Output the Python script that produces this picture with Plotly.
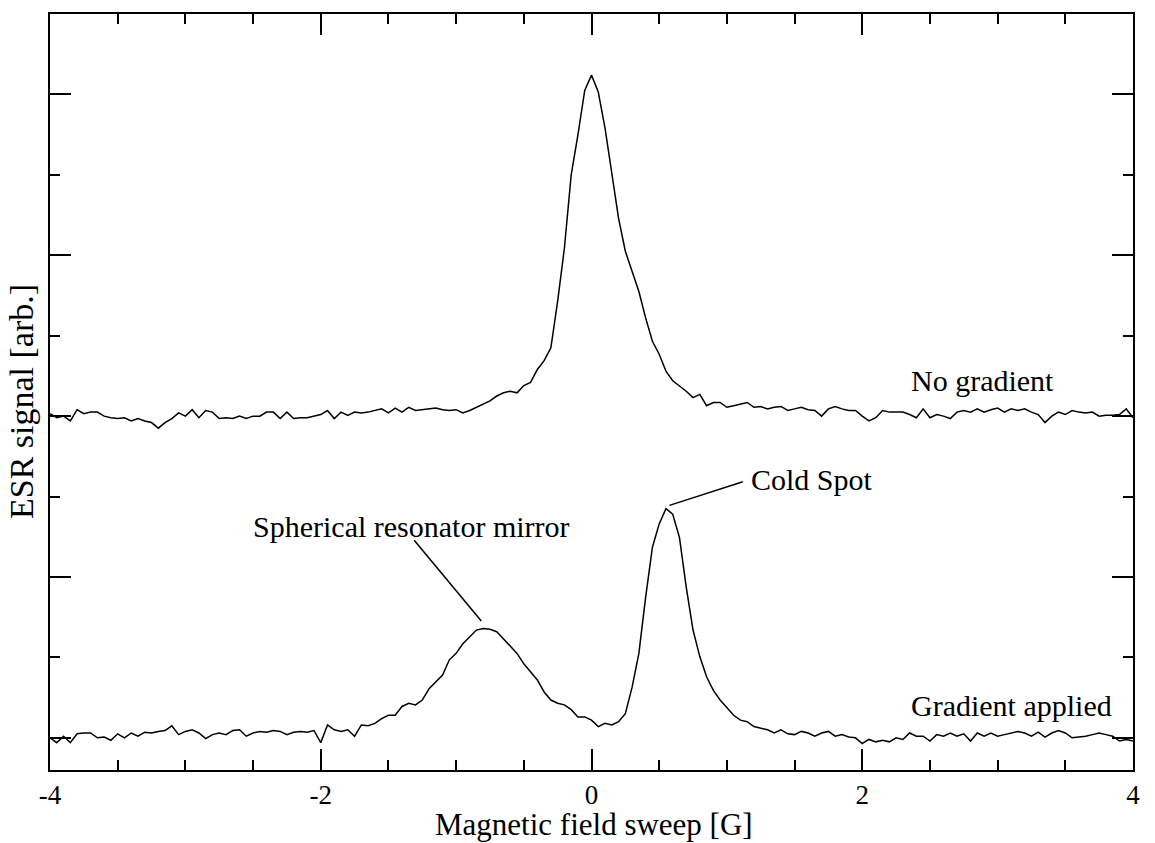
import plotly.graph_objects as go

# Magnetic field sweep [G], sampled every 0.05 G from -4 to 4
field = [round(-4 + 0.05 * i, 2) for i in range(161)]

no_gradient = [
    4.03, 3.98, 4.00, 3.94, 4.08, 4.03, 4.05, 4.05, 4.00, 3.98,
    3.97, 3.98, 3.94, 3.97, 3.94, 3.92, 3.85, 3.92, 3.97, 4.04,
    4.00, 4.08, 3.98, 4.07, 4.05, 3.97, 3.98, 3.97, 4.00, 3.97,
    4.00, 4.00, 4.05, 4.05, 3.97, 4.05, 3.97, 3.98, 3.98, 4.00,
    4.02, 4.07, 3.97, 4.05, 4.01, 4.05, 4.04, 4.05, 4.07, 4.09,
    4.04, 4.10, 4.05, 4.11, 4.07, 4.08, 4.09, 4.10, 4.08, 4.07,
    4.08, 4.04, 4.07, 4.11, 4.15, 4.19, 4.25, 4.29, 4.31, 4.29,
    4.38, 4.42, 4.58, 4.69, 4.85, 5.43, 6.09, 7.00, 7.50, 8.05,
    8.24, 8.03, 7.58, 7.00, 6.46, 6.05, 5.80, 5.55, 5.22, 4.93,
    4.77, 4.56, 4.44, 4.38, 4.31, 4.23, 4.27, 4.13, 4.17, 4.17,
    4.11, 4.13, 4.15, 4.17, 4.11, 4.12, 4.09, 4.11, 4.12, 4.07,
    4.09, 4.11, 4.08, 4.07, 4.00, 4.09, 4.12, 4.09, 4.07, 4.07,
    4.00, 3.94, 3.98, 4.07, 4.05, 4.05, 4.05, 4.02, 3.98, 4.09,
    3.98, 4.02, 4.00, 3.97, 4.05, 4.07, 4.05, 4.09, 4.05, 4.08,
    4.10, 4.05, 4.09, 4.07, 4.09, 4.05, 4.02, 3.92, 4.00, 4.05,
    4.02, 4.07, 4.05, 4.04, 4.05, 4.00, 4.01, 4.01, 4.02, 4.09,
    3.98,
]

gradient_applied = [
    0.00, -0.06, 0.02, -0.06, 0.05, 0.06, 0.06, 0.00, 0.01, -0.03,
    0.05, 0.00, 0.06, 0.02, 0.07, 0.06, 0.08, 0.09, 0.15, 0.04,
    0.08, 0.10, 0.06, -0.01, 0.04, 0.06, 0.04, 0.09, 0.10, 0.02,
    0.06, 0.08, 0.07, 0.09, 0.08, 0.04, 0.07, 0.08, 0.07, 0.09,
    -0.06, 0.16, 0.10, 0.08, 0.10, 0.02, 0.16, 0.15, 0.18, 0.24,
    0.28, 0.28, 0.39, 0.43, 0.41, 0.47, 0.61, 0.70, 0.78, 0.97,
    1.05, 1.17, 1.25, 1.34, 1.36, 1.35, 1.32, 1.23, 1.13, 1.05,
    0.92, 0.82, 0.72, 0.57, 0.47, 0.43, 0.41, 0.35, 0.26, 0.26,
    0.22, 0.14, 0.18, 0.16, 0.20, 0.30, 0.63, 1.05, 1.75, 2.37,
    2.66, 2.85, 2.78, 2.49, 1.87, 1.34, 1.01, 0.76, 0.59, 0.47,
    0.37, 0.28, 0.22, 0.20, 0.14, 0.12, 0.10, 0.06, 0.10, 0.05,
    0.04, 0.08, 0.06, 0.02, 0.06, 0.08, 0.02, 0.04, 0.01, 0.00,
    -0.07, -0.02, -0.05, -0.03, -0.05, 0.00, -0.02, 0.06, 0.02, 0.02,
    -0.04, 0.04, 0.02, 0.06, 0.02, 0.05, -0.04, 0.06, 0.02, 0.06,
    0.02, 0.04, 0.06, 0.08, 0.06, 0.02, 0.07, 0.01, 0.06, 0.09,
    0.06, 0.00, 0.01, 0.02, 0.04, 0.06, 0.04, 0.02, -0.04, -0.02,
    -0.04,
]

x_tick_vals = [-4, -2, 0, 2, 4]
x_tick_text = ["-4", "-2", "0", "2", "4"]

FONT = "Liberation Serif, Times New Roman, serif"

fig = go.Figure()
for ys in (no_gradient, gradient_applied):
    fig.add_trace(go.Scatter(
        x=field, y=ys, mode="lines",
        line=dict(color="black", width=1.5),
        showlegend=False, hoverinfo="skip",
    ))

axis_common = dict(
    showgrid=False, zeroline=False,
    showline=True, linecolor="black", linewidth=2,
    mirror="allticks", ticks="inside", tickcolor="black",
    tickwidth=2, ticklen=21,
)

fig.update_xaxes(
    range=[-4, 4], tickmode="array", tickvals=x_tick_vals, ticktext=x_tick_text,
    tickfont=dict(family=FONT, size=27, color="black"),
    minor=dict(dtick=0.5, tick0=0, ticks="inside", ticklen=10,
               tickwidth=2, tickcolor="black", showgrid=False),
    **axis_common,
)
fig.update_yaxes(
    range=[-0.4, 9.0], tick0=0, dtick=2, showticklabels=False,
    minor=dict(dtick=1, tick0=0, ticks="inside", ticklen=10,
               tickwidth=2, tickcolor="black", showgrid=False),
    **axis_common,
)

ann_font = dict(family=FONT, size=30, color="black")
annotations = [
    dict(text="No gradient", x=2.347, y=4.44, xref="x", yref="y",
         xanchor="left", yanchor="middle", showarrow=False, font=ann_font),
    dict(text="Gradient applied", x=2.347, y=0.40, xref="x", yref="y",
         xanchor="left", yanchor="middle", showarrow=False, font=ann_font),
    dict(text="Cold Spot", x=1.16, y=3.21, xref="x", yref="y",
         xanchor="left", yanchor="middle", showarrow=False, font=ann_font),
    dict(text="Spherical resonator mirror", x=-1.33, y=2.63, xref="x", yref="y",
         xanchor="center", yanchor="middle", showarrow=False, font=ann_font),
    # leader lines
    dict(text="", x=0.576, y=2.89, ax=1.129, ay=3.19, xref="x", yref="y",
         axref="x", ayref="y", showarrow=True, arrowhead=0, arrowwidth=1.5,
         arrowcolor="black", standoff=0, startstandoff=0),
    dict(text="", x=-0.814, y=1.453, ax=-1.319, ay=2.475, xref="x", yref="y",
         axref="x", ayref="y", showarrow=True, arrowhead=0, arrowwidth=1.5,
         arrowcolor="black", standoff=0, startstandoff=0),
    # axis titles
    dict(text="Magnetic field sweep [G]", x=0.502, y=-0.0715, xref="paper", yref="paper",
         xanchor="center", yanchor="middle", showarrow=False,
         font=dict(family=FONT, size=31, color="black")),
    dict(text="ESR signal [arb.]", x=-0.0268, y=0.488, xref="paper", yref="paper",
         xanchor="center", yanchor="middle", showarrow=False, textangle=-90,
         font=dict(family=FONT, size=34, color="black")),
]

fig.update_layout(
    width=1155, height=843,
    margin=dict(l=50, r=22, t=12, b=73),
    paper_bgcolor="white", plot_bgcolor="white",
    annotations=annotations,
)

fig.write_html("out.html")
